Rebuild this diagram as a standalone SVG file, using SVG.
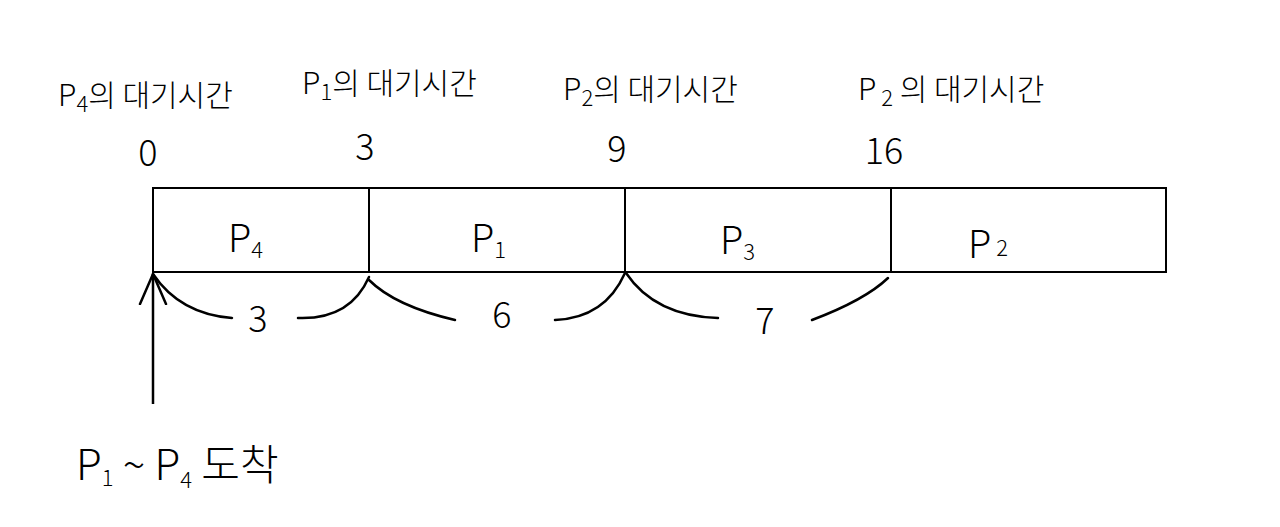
<svg xmlns="http://www.w3.org/2000/svg" width="1280" height="527" viewBox="0 0 1280 527">
  <style>
    .t { font-family: "Noto Sans CJK KR", "Noto Sans", sans-serif; fill: #000; font-weight: 300; }
    .lbl { font-size: 30px; }
    .num { font-size: 36px; }
    .cell-txt { font-size: 38px; }
    .sub { font-size: 22px; }
    .cell { fill: #fff; stroke: #000; stroke-width: 2; }
    .arc { fill: none; stroke: #000; stroke-width: 2.5; stroke-linecap: round; }
  </style>
  <defs>
    <marker id="open-arrow" markerUnits="userSpaceOnUse" markerWidth="32" markerHeight="32" viewBox="0 0 32 32" refX="31" refY="16" orient="auto">
      <path d="M1,3 L31,16 L1,29" fill="none" stroke="#000" stroke-width="2.5" stroke-linecap="round" stroke-linejoin="round"/>
    </marker>
  </defs>
  <rect width="1280" height="527" fill="#fff"/>

  <!-- waiting time labels -->
  <g id="label-p4-wait">
    <text class="t lbl" x="58" y="106">P<tspan class="sub" dy="6">4</tspan><tspan dy="-6">의 대기시간</tspan></text>
  </g>
  <g id="label-p1-wait">
    <text class="t lbl" x="302" y="94">P<tspan class="sub" dy="6">1</tspan><tspan dy="-6">의 대기시간</tspan></text>
  </g>
  <g id="label-p3-wait">
    <text class="t lbl" x="563" y="100">P<tspan class="sub" dy="6">2</tspan><tspan dy="-6">의 대기시간</tspan></text>
  </g>
  <g id="label-p2-wait">
    <text class="t lbl" x="858" y="100">P<tspan class="sub" dy="6"> 2</tspan><tspan dy="-6"> 의  대기시간</tspan></text>
  </g>

  <!-- time marks -->
  <g id="time-0"><text class="t num" x="148" y="166" text-anchor="middle">0</text></g>
  <g id="time-3"><text class="t num" x="365" y="160" text-anchor="middle">3</text></g>
  <g id="time-9"><text class="t num" x="617" y="162" text-anchor="middle">9</text></g>
  <g id="time-16"><text class="t num" x="884" y="164" text-anchor="middle">16</text></g>

  <!-- gantt cells -->
  <g id="cell-p4">
    <rect class="cell" x="153" y="188" width="216" height="84"/>
    <text class="t cell-txt" x="228" y="252">P<tspan class="sub" font-size="26" dy="6">4</tspan></text>
  </g>
  <g id="cell-p1">
    <rect class="cell" x="369" y="188" width="256" height="84"/>
    <text class="t cell-txt" x="471" y="252">P<tspan class="sub" font-size="26" dy="6">1</tspan></text>
  </g>
  <g id="cell-p3">
    <rect class="cell" x="625" y="188" width="266" height="84"/>
    <text class="t cell-txt" x="720" y="254">P<tspan class="sub" font-size="26" dy="6">3</tspan></text>
  </g>
  <g id="cell-p2">
    <rect class="cell" x="891" y="188" width="275" height="84"/>
    <text class="t cell-txt" x="968" y="258">P<tspan class="sub" font-size="26" dy="-2">   2</tspan></text>
  </g>

  <!-- brace values -->
  <g id="wait-3"><text class="t num" x="258" y="332" text-anchor="middle">3</text></g>
  <g id="wait-6"><text class="t num" x="502" y="328" text-anchor="middle">6</text></g>
  <g id="wait-7"><text class="t num" x="765" y="334" text-anchor="middle">7</text></g>

  <!-- arrival label -->
  <g id="arrival">
    <text class="t" font-size="42" x="76" y="480">P<tspan class="sub" font-size="26" dy="6">1</tspan><tspan dy="-6"> ~ P</tspan><tspan class="sub" font-size="26" dy="8">4</tspan><tspan dy="-8">   도착</tspan></text>
  </g>

  <!-- connectors -->
  <g id="connectors">
    <path class="arc" d="M153,274 Q180,314 232,318"/>
    <path class="arc" d="M298,318 Q350,320 369,277"/>
    <path class="arc" d="M369,280 Q395,306 455,320"/>
    <path class="arc" d="M555,320 Q605,318 625,273"/>
    <path class="arc" d="M626,273 Q655,316 718,318"/>
    <path class="arc" d="M812,320 Q865,300 888,278"/>
    <line x1="153" y1="404" x2="153" y2="274" stroke="#000" stroke-width="2.5" marker-end="url(#open-arrow)"/>
  </g>
</svg>
